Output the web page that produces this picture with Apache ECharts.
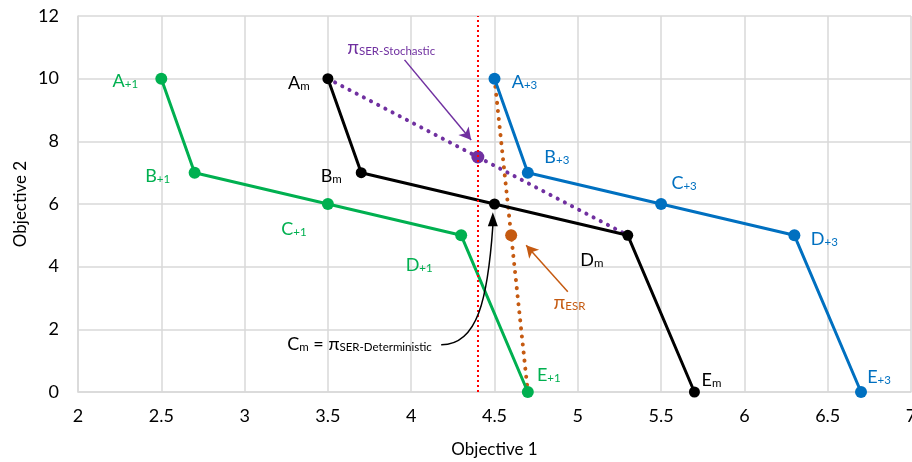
<!DOCTYPE html>
<html>
<head>
<meta charset="utf-8">
<script src="https://cdn.jsdelivr.net/npm/echarts@6/dist/echarts.min.js"></script>
<style>
  html, body { margin: 0; padding: 0; background: #fff; }
  #chart { width: 912px; height: 462px; }
</style>
</head>
<body>
<div id="chart"></div>
<script>
var pointNames = ['A', 'B', 'C', 'D', 'E'];

// three fronts: +1, m (mean), +3
var obj1Plus1 = [2.5, 2.7, 3.5, 4.3, 4.7];
var obj2Plus1 = [10, 7, 6, 5, 0];
var obj1Mean = [3.5, 3.7, 4.5, 5.3, 5.7];
var obj2Mean = [10, 7, 6, 5, 0];
var obj1Plus3 = [4.5, 4.7, 5.5, 6.3, 6.7];
var obj2Plus3 = [10, 7, 6, 5, 0];

// policies
var stochX = [3.5, 4.4, 5.3];
var stochY = [10, 7.5, 5];
var esrX = [4.5, 4.6, 4.7];
var esrY = [10, 5, 0];
var thresholdX = 4.4;

var xTicks = { min: 2, max: 7, step: 0.5 };
var yTicks = { min: 0, max: 12, step: 2 };

var GREEN = '#00B050', BLACK = '#000000', BLUE = '#0070C0';
var PURPLE = '#7030A0', ORANGE = '#C55A11', RED = '#FF0000';
var FONT = 'Lato';

// label offsets (pixels, from point centre)
var offPlus1 = [[-36, 2], [-37, 3], [-34, 24], [-42, 29], [21, -18]];
var offMean = [[-29, 4], [-30, 3], null, [-36, 24], [17, -13]];
var offPlus3 = [[30, 3], [29, -16], [23, -22], [30, 3], [18, -16]];

function subRich(color) {
    return {
        b: { fontFamily: FONT, fontSize: 18, color: color, verticalAlign: 'bottom', lineHeight: 20 },
        s: { fontFamily: FONT, fontSize: 11.5, color: color, verticalAlign: 'bottom', lineHeight: 15 }
    };
}

function frontData(xs, ys, sub, offs, color) {
    return xs.map(function (x, i) {
        var off = offs[i];
        return {
            value: [x, ys[i]],
            label: off ? {
                show: true,
                position: 'inside',
                offset: off,
                formatter: '{b|' + pointNames[i] + '}{s|' + sub + '}',
                rich: subRich(color)
            } : { show: false }
        };
    });
}

function frontSeries(name, xs, ys, sub, offs, color, size) {
    return {
        name: name,
        type: 'line',
        data: frontData(xs, ys, sub, offs, color),
        symbol: 'circle',
        symbolSize: size,
        lineStyle: { color: color, width: 3 },
        itemStyle: { color: color },
        z: 3
    };
}

function pairs(xs, ys) {
    return xs.map(function (x, i) { return [x, ys[i]]; });
}

function arrowLine(from, to, color) {
    var ls = { color: color, width: 1.5, type: 'solid' };
    return [
        { coord: from, symbol: 'none', lineStyle: ls },
        { coord: to, symbol: 'arrow', symbolSize: [10, 12], lineStyle: ls }
    ];
}

var chart = echarts.init(document.getElementById('chart'));

var option = {
    animation: false,
    grid: { left: 78, top: 16, right: 1, bottom: 70, containLabel: false, outerBoundsMode: 'none' },
    xAxis: {
        type: 'value', min: xTicks.min, max: xTicks.max, interval: xTicks.step,
        name: 'Objective 1', nameLocation: 'middle', nameGap: 49, nameMoveOverlap: false,
        nameTextStyle: { fontFamily: FONT, fontSize: 17, color: '#000' },
        axisLine: { show: true, lineStyle: { color: '#d9d9d9', width: 1.5 } },
        axisTick: { show: false },
        axisLabel: { fontFamily: FONT, fontSize: 18, color: '#000', margin: 15 },
        splitLine: { show: true, lineStyle: { color: '#d9d9d9', width: 1.5 } }
    },
    yAxis: {
        type: 'value', min: yTicks.min, max: yTicks.max, interval: yTicks.step,
        name: 'Objective 2', nameLocation: 'middle', nameGap: 49, nameMoveOverlap: false,
        nameTextStyle: { fontFamily: FONT, fontSize: 17, color: '#000' },
        axisLine: { show: true, lineStyle: { color: '#d9d9d9', width: 1.5 } },
        axisTick: { show: false },
        axisLabel: { fontFamily: FONT, fontSize: 18, color: '#000', margin: 19 },
        splitLine: { show: true, lineStyle: { color: '#d9d9d9', width: 1.5 } }
    },
    series: [
        {
            // threshold line, straight arrows and annotation texts
            type: 'line',
            data: [],
            silent: true,
            markLine: {
                silent: true,
                symbol: 'none',
                label: { show: false },
                data: [
                    { xAxis: thresholdX, lineStyle: { color: RED, width: 2, type: [2, 3] } },
                    arrowLine([3.96, 10.6], [4.36, 8.04], PURPLE),
                    arrowLine([4.94, 3.2], [4.69, 4.68], ORANGE)
                ]
            },
            markPoint: {
                symbol: 'circle',
                symbolSize: 0,
                silent: true,
                data: [
                    { coord: [3.88, 11.0], label: { show: true, position: 'inside',
                      formatter: '{b|π}{s|SER-Stochastic}',
                      rich: { b: { fontFamily: FONT, fontSize: 19, color: PURPLE, verticalAlign: 'bottom', lineHeight: 20 },
                              s: { fontFamily: FONT, fontSize: 11.5, color: PURPLE, verticalAlign: 'bottom', lineHeight: 15 } } } },
                    { coord: [4.95, 2.87], label: { show: true, position: 'inside',
                      formatter: '{b|π}{s|ESR}',
                      rich: { b: { fontFamily: FONT, fontSize: 19, color: ORANGE, verticalAlign: 'bottom', lineHeight: 20 },
                              s: { fontFamily: FONT, fontSize: 11.5, color: ORANGE, verticalAlign: 'bottom', lineHeight: 15 } } } },
                    { coord: [3.69, 1.56], label: { show: true, position: 'inside',
                      formatter: '{b|C}{s|m}{b| = π}{s|SER-Deterministic}',
                      rich: { b: { fontFamily: FONT, fontSize: 18, color: BLACK, verticalAlign: 'bottom', lineHeight: 20 },
                              s: { fontFamily: FONT, fontSize: 11.5, color: BLACK, verticalAlign: 'bottom', lineHeight: 15 } } } }
                ]
            }
        },
        frontSeries('+1', obj1Plus1, obj2Plus1, '+1', offPlus1, GREEN, 12),
        frontSeries('m', obj1Mean, obj2Mean, 'm', offMean, BLACK, 11),
        frontSeries('+3', obj1Plus3, obj2Plus3, '+3', offPlus3, BLUE, 12),
        {
            name: 'SER-Stochastic',
            type: 'line',
            data: pairs(stochX, stochY),
            symbol: function (v, p) { return p.dataIndex === 1 ? 'circle' : 'none'; },
            symbolSize: 13,
            itemStyle: { color: PURPLE },
            lineStyle: { color: PURPLE, width: 4, type: [0.1, 8], cap: 'round' },
            z: 2
        },
        {
            name: 'ESR',
            type: 'line',
            data: pairs(esrX, esrY),
            symbol: function (v, p) { return p.dataIndex === 1 ? 'circle' : 'none'; },
            symbolSize: 12,
            itemStyle: { color: ORANGE },
            lineStyle: { color: ORANGE, width: 4, type: [0.1, 8], cap: 'round' },
            z: 2
        }
    ]
};

chart.setOption(option);

// curved arrow from the C_m label up to the C_m point (anchors in data units)
var toPx = function (p) { return chart.convertToPixel({ gridIndex: 0 }, p); };
var cTail = toPx([4.18, 1.51]);
var cCp1 = toPx([4.40, 1.50]);
var cCp2 = toPx([4.46, 3.0]);
var cEnd = toPx([4.49, 5.3]);
var cTip = toPx([4.49, 5.74]);
chart.setOption({
    graphic: [
        {
            type: 'bezierCurve',
            silent: true,
            z: 10,
            shape: { x1: cTail[0], y1: cTail[1], x2: cEnd[0], y2: cEnd[1],
                     cpx1: cCp1[0], cpy1: cCp1[1], cpx2: cCp2[0], cpy2: cCp2[1] },
            style: { stroke: BLACK, lineWidth: 1.5, fill: null }
        },
        {
            type: 'polygon',
            silent: true,
            z: 10,
            shape: { points: [[cTip[0], cTip[1]], [cTip[0] - 5, cTip[1] + 14], [cTip[0] + 5, cTip[1] + 14]] },
            style: { fill: BLACK }
        }
    ]
});
</script>
</body>
</html>
